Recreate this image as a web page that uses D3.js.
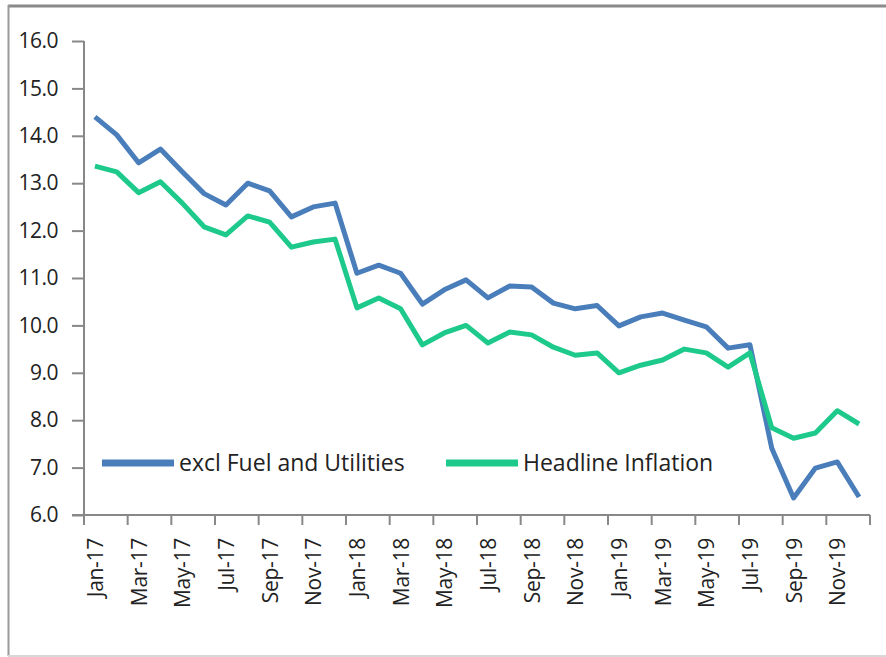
<!DOCTYPE html>
<html>
<head>
<meta charset="utf-8">
<script src="https://cdn.jsdelivr.net/npm/d3@7"></script>
<style>
  body { margin: 0; background: #fff; }
  svg { display: block; font-family: "Open Sans", "Noto Sans", sans-serif; }
</style>
</head>
<body>
<svg width="886" height="657"></svg>
<script>
const svg = d3.select("svg");

const months = [
  "Jan-17","Feb-17","Mar-17","Apr-17","May-17","Jun-17","Jul-17","Aug-17","Sep-17","Oct-17","Nov-17","Dec-17",
  "Jan-18","Feb-18","Mar-18","Apr-18","May-18","Jun-18","Jul-18","Aug-18","Sep-18","Oct-18","Nov-18","Dec-18",
  "Jan-19","Feb-19","Mar-19","Apr-19","May-19","Jun-19","Jul-19","Aug-19","Sep-19","Oct-19","Nov-19","Dec-19"
];
const exclFuel = [
  14.40, 14.02, 13.43, 13.72, 13.24, 12.78, 12.54, 13.00, 12.84, 12.29, 12.50, 12.58,
  11.10, 11.27, 11.10, 10.45, 10.75, 10.96, 10.58, 10.83, 10.81, 10.47, 10.35, 10.42,
  9.99, 10.18, 10.26, 10.11, 9.97, 9.52, 9.59, 7.41, 6.36, 6.99, 7.12, 6.38
];
const headline = [
  13.36, 13.24, 12.80, 13.03, 12.58, 12.08, 11.91, 12.31, 12.18, 11.65, 11.76, 11.82,
  10.37, 10.58, 10.35, 9.59, 9.84, 10.00, 9.63, 9.86, 9.80, 9.54, 9.37, 9.42,
  9.00, 9.16, 9.27, 9.50, 9.42, 9.12, 9.42, 7.84, 7.62, 7.73, 8.20, 7.92
];
const yTicks = [6, 7, 8, 9, 10, 11, 12, 13, 14, 15, 16];
const series = [
  { name: "excl Fuel and Utilities", values: exclFuel, color: "#4a7ebb" },
  { name: "Headline Inflation", values: headline, color: "#1ec98c" }
];

// frame
svg.append("line").attr("x1", 8).attr("x2", 886).attr("y1", 6).attr("y2", 6)
  .attr("stroke", "#8a8a8a").attr("stroke-width", 3);
svg.append("line").attr("x1", 8.5).attr("x2", 8.5).attr("y1", 5).attr("y2", 656)
  .attr("stroke", "#9a9a9a").attr("stroke-width", 2);
svg.append("line").attr("x1", 8).attr("x2", 886).attr("y1", 656).attr("y2", 656)
  .attr("stroke", "#d8d8d8").attr("stroke-width", 2);

const x = d3.scaleBand().domain(months).range([84, 870]).padding(0);
const y = d3.scaleLinear().domain([6, 16]).range([515, 41]);

// y axis
const yAxis = svg.append("g")
  .attr("transform", "translate(84,0)")
  .call(d3.axisLeft(y).tickValues(yTicks).tickFormat(d3.format(".1f")).tickSize(12).tickPadding(14));
yAxis.selectAll("line, path").attr("stroke", "#888").attr("stroke-width", 2);
yAxis.select(".domain").attr("d", "M0,41V515");
yAxis.selectAll("text").attr("fill", "#222").style("font-size", "21px")
  .attr("font-family", "'Open Sans', sans-serif").attr("letter-spacing", "-0.5px");

// x axis
const xg = svg.append("g");
xg.append("line").attr("x1", 72).attr("x2", 870).attr("y1", y(6)).attr("y2", y(6))
  .attr("stroke", "#888").attr("stroke-width", 2);
const tickPos = months.filter((m, i) => i % 2 === 0).map(m => x(m)).concat([x.range()[1]]);
xg.selectAll(".xt").data(tickPos).join("line")
  .attr("x1", d => d).attr("x2", d => d).attr("y1", y(6)).attr("y2", y(6) + 10)
  .attr("stroke", "#888").attr("stroke-width", 2);
xg.selectAll(".xl").data(months.filter((m, i) => i % 2 === 0)).join("text")
  .attr("transform", d => `translate(${x(d) + x.bandwidth() / 2 + 8},${y(6) + 23}) rotate(-90)`)
  .attr("text-anchor", "end")
  .attr("fill", "#222")
  .style("font-size", "21px")
  .attr("letter-spacing", "-0.3px")
  .text(d => d);

// lines
const line = d3.line()
  .x((d, i) => x(months[i]) + x.bandwidth() / 2)
  .y(d => y(d));
svg.selectAll(".series").data(series).join("path")
  .attr("fill", "none")
  .attr("stroke", d => d.color)
  .attr("stroke-width", 5)
  .attr("stroke-linejoin", "round")
  .attr("d", d => line(d.values));

// legend
const legendX = [102, 446];
const lg = svg.selectAll(".legend").data(series).join("g")
  .attr("transform", (d, i) => `translate(${legendX[i]},463)`);
lg.append("line").attr("x1", 0).attr("x2", 72).attr("y1", 0).attr("y2", 0)
  .attr("stroke", d => d.color).attr("stroke-width", 7);
lg.append("text").attr("x", 77).attr("y", 8)
  .attr("fill", "#222").style("font-size", "23px")
  .text(d => d.name);
</script>
</body>
</html>
